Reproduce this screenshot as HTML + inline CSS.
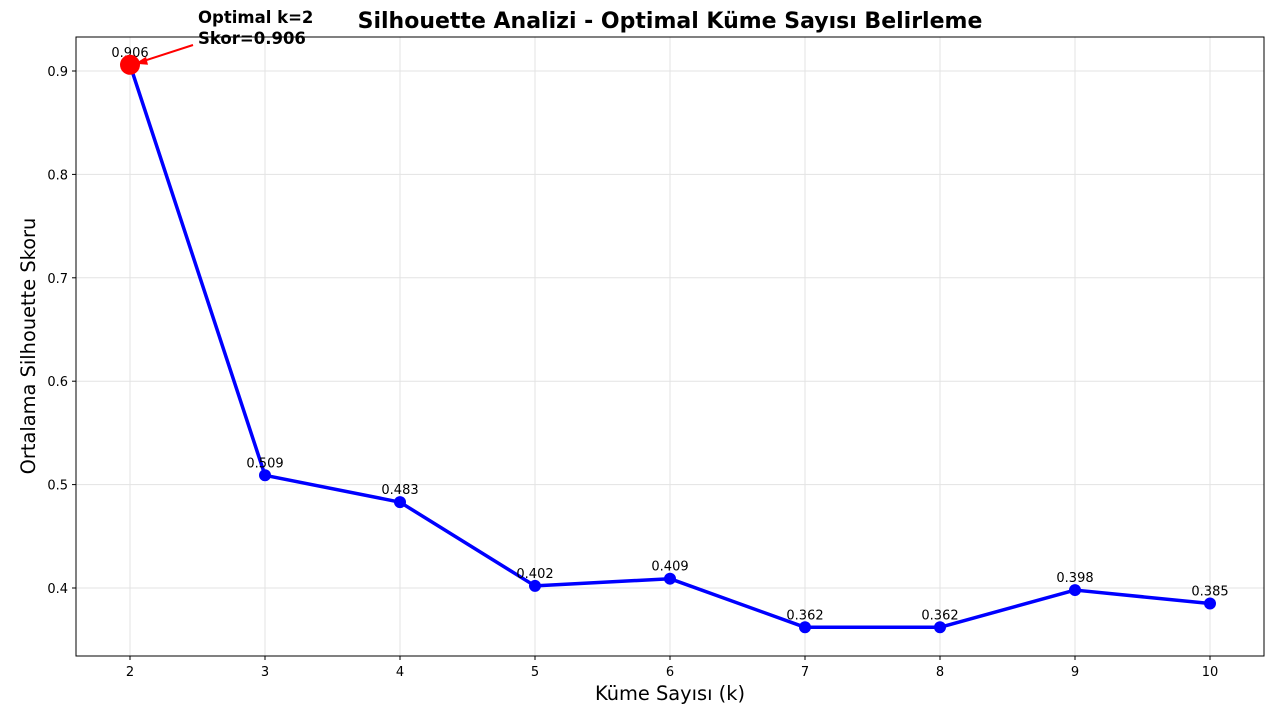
<!DOCTYPE html>
<html><head><meta charset="utf-8"><style>
body{margin:0;background:#fff;}
svg{font-family:"DejaVu Sans","Liberation Sans",sans-serif;}
</style></head><body>
<svg id="chart" width="1280" height="712" xmlns="http://www.w3.org/2000/svg">
<rect width="1280" height="712" fill="#fff"/>
<g id="grid"></g>
<g id="axes"></g>
<g id="series"></g>
<text x="670" y="28" text-anchor="middle" font-size="22" font-weight="bold">Silhouette Analizi - Optimal Küme Sayısı Belirleme</text>
<text x="670" y="700" text-anchor="middle" font-size="19.4">Küme Sayısı (k)</text>
<text transform="translate(35,346) rotate(-90)" text-anchor="middle" font-size="19.4">Ortalama Silhouette Skoru</text>
</svg>
<script>
const categories=[2,3,4,5,6,7,8,9,10];
const scores=[0.906,0.509,0.483,0.402,0.409,0.362,0.362,0.398,0.385];
const labels=["0.906","0.509","0.483","0.402","0.409","0.362","0.362","0.398","0.385"];
const yTicks=[0.4,0.5,0.6,0.7,0.8,0.9];
const xTicks=[2,3,4,5,6,7,8,9,10];
const NS="http://www.w3.org/2000/svg";
const L=76,R=1264,T=37,B=656;
function xs(k){return 130+(k-2)*135;}
function ys(v){return 71+(0.9-v)*1034;}
function mk(t,a,p){const e=document.createElementNS(NS,t);for(const k in a)e.setAttribute(k,a[k]);p.appendChild(e);return e;}
const grid=document.getElementById('grid'),axes=document.getElementById('axes'),ser=document.getElementById('series');
xTicks.forEach(k=>{
 const g=mk('line',{x1:xs(k),x2:xs(k),y1:T,y2:B,stroke:'#e3e3e3','stroke-width':1},grid);
 
 
 mk('line',{x1:xs(k),x2:xs(k),y1:B,y2:B+4,stroke:'#000'},axes);
 const t=mk('text',{x:xs(k),y:B+20,'text-anchor':'middle','font-size':13},axes);t.textContent=k;
 
 
});
yTicks.forEach(v=>{
 const g=mk('line',{x1:L,x2:R,y1:ys(v),y2:ys(v),stroke:'#e3e3e3','stroke-width':1},grid);
 
 
 mk('line',{x1:L-4,x2:L,y1:ys(v),y2:ys(v),stroke:'#000'},axes);
 const t=mk('text',{x:L-8,y:ys(v)+5,'text-anchor':'end','font-size':13},axes);t.textContent=v.toFixed(1);
 
 
});
const fr=mk('rect',{x:L,y:T,width:R-L,height:B-T,fill:'none',stroke:'#000','stroke-width':1},axes);


const line=mk('polyline',{points:categories.map((k,i)=>xs(k)+','+ys(scores[i])).join(' '),fill:'none',stroke:'#0000ff','stroke-width':3.5,'stroke-linejoin':'round'},ser);


categories.forEach((k,i)=>{
 const c=mk('circle',{cx:xs(k),cy:ys(scores[i]),r:6,fill:'#0000ff'},ser);
 
 
 const t=mk('text',{x:xs(k),y:ys(scores[i])-8,'text-anchor':'middle','font-size':13},ser);t.textContent=labels[i];
 
 
});
const bi=scores.indexOf(Math.max(...scores));
const bx=xs(categories[bi]),by=ys(scores[bi]);
const oc=mk('circle',{cx:bx,cy:by,r:10,fill:'#ff0000'},ser);


const ar=mk('line',{x1:193,y1:45,x2:bx+8,y2:by-2,stroke:'#ff0000','stroke-width':2},ser);


const ah=mk('polygon',{points:`${bx+5},${by-1} ${bx+16},${by-8} ${bx+18},${by}`,fill:'#ff0000'},ser);


const a1=mk('text',{x:198,y:23,'font-size':16.5,'font-weight':'bold'},ser);a1.textContent='Optimal k='+categories[bi];


const a2=mk('text',{x:198,y:44,'font-size':16.5,'font-weight':'bold'},ser);a2.textContent='Skor='+labels[bi];


</script>
</body></html>
